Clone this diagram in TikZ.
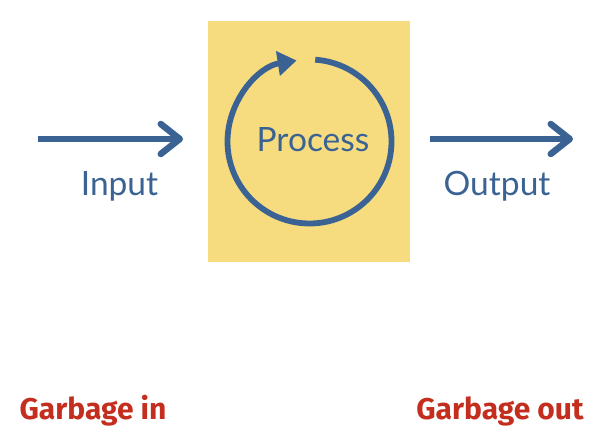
\documentclass[tikz,border=0pt]{standalone}
\usepackage{fontspec}
\setmainfont{Lato}
\newfontfamily\hand{Fira Sans}
\usetikzlibrary{arrows.meta,calc}
\definecolor{pblue}{HTML}{3A6394}
\definecolor{pyellow}{HTML}{F7DC7F}
\definecolor{gred}{HTML}{C42E1E}
\tikzset{
  flow/.style={pblue, line width=6.5pt, -{Straight Barb[length=19pt,width=30pt,round]}},
  label/.style={pblue, font=\fontsize{33.5}{33.5}\selectfont, anchor=base, inner sep=0pt},
  garb/.style={gred, font=\hand\bfseries\fontsize{30}{30}\selectfont, anchor=base, inner sep=0pt},
}
\begin{document}
\begin{tikzpicture}[x=1pt,y=1pt]
\useasboundingbox (0,0) rectangle (613,446);
\fill[pyellow] (208,184) rectangle (410,425);
\coordinate (c) at (309.5,304.5);
\draw[pblue, line width=5.8pt, -{Triangle[length=19pt,width=24pt]}]
  ($(c)+(86:82)$) arc[start angle=86, end angle=-261, radius=82];
\node[label] (proc) at (313,294) {Process};
\coordinate (ina) at (38,307);
\coordinate (inb) at (183,307);
\draw[flow] (ina) -- (inb);
\coordinate (outa) at (430,307);
\coordinate (outb) at (573,307);
\draw[flow] (outa) -- (outb);
\node[label] (in) at (119.5,250) {Input};
\node[label] (out) at (497,250) {Output};
\node[garb] (gin) at (93,26) {Garbage in};
\node[garb] (gout) at (500,26) {Garbage out};
\end{tikzpicture}
\end{document}
